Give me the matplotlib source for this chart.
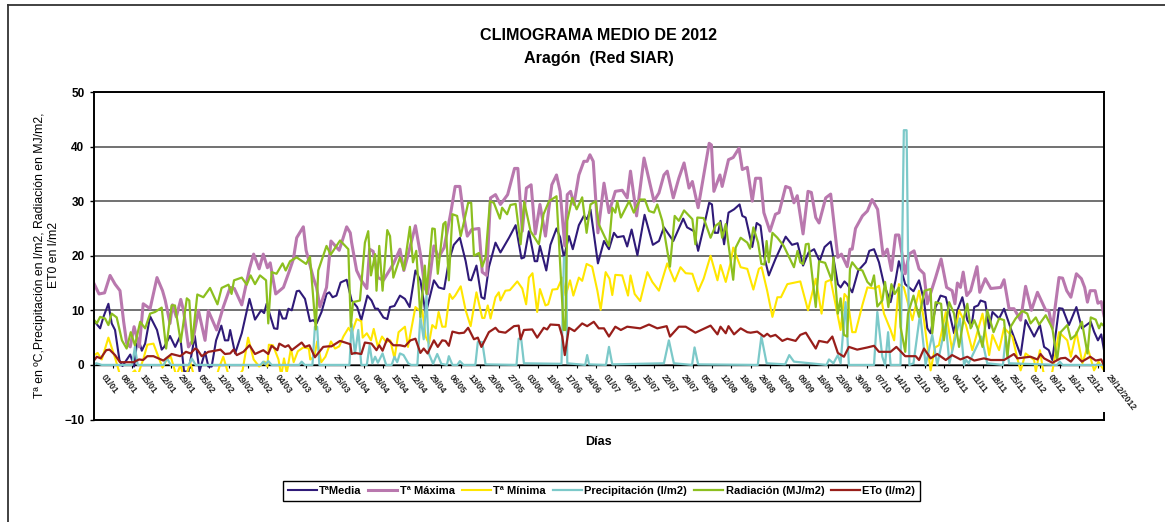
import matplotlib
matplotlib.use('Agg')
import matplotlib.pyplot as plt
from matplotlib.lines import Line2D
from matplotlib.patches import Rectangle
import datetime

plt.rcParams['font.family'] = ['Liberation Sans', 'DejaVu Sans']

# Dia del año (0 = 1 de enero) y valor de cada serie
tmax_dias = [0,2,4,6,7.8,9.6,10.9,12,13.3,14.7,16.6,18,20.5,23,25,26,27.7,28.6,30,31.6,32.6,34.4,36,38,40.4,41.6,44.6,47,49.5,51,53.7,56.5,58,60,61.5,63,64,66,68.8,71,72.4,73.6,76,77,79.6,80.8,82,84.4,86,89,91.7,93,93.5,95.3,97,99,100,101.3,103,105,108.6,111,112.4,114,116.6,118.4,120,121,123.3,125,127,129.3,131,132.7,134,135.4,137,139.6,140.8,142.4,143.8,145.6,147.4,150,152.5,153.7,155.3,156.8,158.5,160,161.7,163.7,166,167.7,169,170.7,171.6,172.8,174,175.8,177.6,178.8,179.8,181,182.7,184.9,186.7,189,191.5,193.3,194.5,196.7,199.4,203,204.8,206.6,207.8,210,212,213.9,215.7,216.9,219,223,223.8,224.7,226.9,227.7,230,231.7,233.8,235,236.8,238.6,239.8,241.6,242.8,245,247,248.3,250.7,252.3,253.7,254.9,257,258.8,260,261.6,262.8,265.2,267,269.6,270.9,273,274,274.8,276,278.5,280.3,282,284,286,287.5,289,290.5,291.7,294,295.4,297.2,299,300.8,302,305,307,309,311,312,312.9,314,315,316.3,317.7,320,321,323,325,328.6,329.8,331.6,333.4,335.8,337.6,339.7,341.9,344.9,346,347.3,349.7,351,352.5,354,356,357.8,359,360,361,362.8,363.8,365,366]
tmax = [15.1,13,13.2,16.4,14.8,13.6,8,4,3.3,7,3.3,11.2,10.3,16,13.6,11.8,7.6,11,8.8,12,10,3.3,4.5,10,4.5,9.9,6.4,10.6,14.2,14,11,17.6,20.3,17.6,20.3,17.8,18.7,13,14.2,17.3,19.4,23.3,25.3,21,16,14.2,10.6,14.2,22.7,21,25.3,24.2,22.4,17.3,15.5,14,21.2,20.8,16,15.5,18.5,21.2,17.3,20.3,25.5,20.3,14.2,13,21.8,19.7,21.5,27.6,32.7,32.7,27.6,23.6,24.8,25,17,16.4,30.6,31.2,29.4,31.2,36,36,24.5,32.4,33,24,29.4,23.6,33,34.8,31.8,21.8,31.2,31.8,29.4,34.8,37.3,37.3,38.5,37.3,24.2,33.3,27.9,31.8,32,30.6,35.5,27.3,37.9,30,31.5,34.8,35.5,30.6,34.2,37,32.4,33.6,28.8,40.6,40.3,31.8,34.8,32.7,37.6,38,39.7,35.8,36.2,30,34.2,34.2,27.9,24.5,27.6,27.9,32.7,32.4,29.7,31,24,31.8,31.6,27,26,30.6,31.3,19.7,20.3,18,21.2,21.2,25,27.3,28.2,30.3,28.5,20,21.2,17.3,23.8,23.8,16.7,20.3,20.9,17.6,16.7,11.2,16,19.4,14.2,13.6,11.2,15,14.2,17,12.7,13.6,18,13.3,15.8,14,14.2,15.6,10.3,10.3,8.2,14.4,10,13.3,10,10,6.7,16,15.9,13.6,12.4,16.7,15.8,14.2,11.5,13.6,13.6,11.3,11.6,9]

tmedia_dias = [0,2.4,3.6,5.4,6.6,7.8,9.4,10.5,13.3,14.7,15.7,16.6,17.5,18.7,20.5,23,24.7,25.6,27.7,29.6,31.4,32.8,34.4,36.7,38.4,40.4,41.6,42.8,44.4,46.3,47.6,48.8,49.5,51.3,53.7,56.5,58.5,60.7,61.8,62.7,65.4,66.6,67.3,68.5,69.7,70.6,71.8,73.6,74.5,76.6,78.4,79.6,80.8,82.6,84.4,85.4,86.6,88,89.5,91.7,93.5,95.5,97,99.2,100.7,102,103,105,106.4,107.4,109,111,112.8,114.5,116.6,118.4,120.3,121.5,123.3,125,127,128.7,130.5,132.7,134.8,136,136.8,138.7,140.5,141.6,143.2,145.6,147.4,150.5,152.9,155,156,157.7,159.8,160.7,161.7,164,165.5,167.7,169,170.4,172.2,173.6,175.8,177.6,178.8,180,182.7,184.9,186.7,188.5,189.7,192,193.3,194.9,197,199.6,202.6,204.8,206.6,210,213.6,215,217.5,219,221,223,224,225,226.2,227.1,228.4,230,232,234,235,236.2,238.6,240.2,241.6,243,244.6,247,250.7,253,255,257,259,261,263,264.8,267,269.6,270.6,272,273,274.8,277,279.7,281,282.7,284.5,286.3,288.7,290.5,291.7,294,297,299,300.8,302,303.2,305,306.8,308.7,311.7,312.9,314.7,316.5,318,319,320.4,321.3,323,324.4,325.6,328,329.8,332.2,335.8,337.6,340.7,342.8,344.3,346,347.3,349.7,351,353.3,356,358,361.2,362.4,363.8,365,366]
tmedia = [8.2,6.7,8.8,11.2,7.6,6.4,0.9,-0.2,1.9,-0.3,3.9,4.2,2.6,3.9,8.9,6.4,2.8,3.3,5.3,3.3,5.3,-1.2,-1.2,5.3,-1.2,2.4,-0.3,-0.3,4.5,7.2,4.5,4.5,6.4,2.1,5.8,12.1,8.3,10,9.5,11.2,6.7,6.6,10,8.5,8.5,10.3,10,13.5,13.6,12.1,8,8.2,7.6,9.7,13,13.3,12.4,12.7,15.1,15.6,11.8,10.6,8.2,12.7,11.8,10.3,10.3,8.7,8.4,10.6,10.8,12.7,12.1,10.6,17.3,15.5,9.4,11.8,15.5,14.2,13.9,19,22,23.3,19,15.6,15.5,18.2,12.4,12.1,17.9,22.4,20.6,23.3,25.6,19.5,19.7,24.5,19,19,21.8,17.3,22,25,23.4,19.7,23.6,21.2,25.6,27.3,26.7,28.5,18.6,22.7,21.2,24.2,23.4,23.6,21.7,24.8,20.1,27.5,22,22.7,25.2,22.7,26.8,25.2,24.5,20.9,25.2,29.7,29.4,24.2,24.2,26.4,22.1,27.9,28.5,29.4,27.3,27,21.6,26,25.5,19.7,16.4,19.4,23.5,22,22.3,18.2,20.6,21.2,19,21.6,22.6,14.8,14.2,15.3,14.8,13.3,17.3,18.8,20.9,21.2,18.8,14.8,11.5,15.5,19,14.8,13.5,15.5,11.8,6.7,5.8,10.6,12.7,12.4,5.8,10,12.4,8.2,7,10.6,10.9,11.8,11.5,6.7,9.7,8.5,10.3,6.7,1.8,8.2,5.2,7.3,3.3,2.7,0.9,10.4,10.3,7.3,10.6,6.7,7.9,6.1,4.5,5.6,2.7]

tmin_dias = [0,1.5,3,5.4,7,8,9.4,11,13,15,16,18,19.5,21.7,23.5,25,26.5,28,30,31.5,33,35,37,39,41,44,45.5,47,49,51,54,56,58,60,62,63,63.5,65,67,68,69,70,71.5,72.5,74,76,78,78.5,80,81,82.5,84,86,87.5,89,90.5,92.4,93.5,95.3,97,97.5,99,100.5,101.5,103,104.5,106,107.5,109,110.5,112.8,113.9,116.6,118,119.1,120.3,121.5,122.7,124,125,126.3,127.5,129,130,131,133,134.8,136.6,138.7,140.8,141.6,142.8,143.8,145.6,146.8,147.4,149.2,150.8,153.5,155.3,156.7,157.7,159,160.7,161.7,163.7,164.7,166.2,168,169.8,171,172.6,173.8,175.8,177,178.6,180.6,182.5,183.7,185.5,186.9,187.9,189,191.5,193.6,194.5,196,198,200.6,202.4,204.8,207.8,210.5,212.6,214.5,216.9,219,221,223.5,226,227.1,229,230.8,231.7,234.4,236.8,239,241,242,244,245.9,247.7,249,251.3,256,258.8,261.6,263.7,265.2,267,270.6,272,273,274.8,276,278.5,280.3,283,284.5,286.3,288.7,290,291.7,293.5,296.6,299,300.8,303.2,304.8,306.2,308.7,311,313.5,316,318.3,322,324.4,325.6,328,329.8,332.8,334.6,335.8,337.6,340.7,341.3,342.8,344,345.5,347.3,349.7,352.7,354,356,358.2,360,362.4,364,366]
tmin = [1.7,2.2,1,5,2.5,1,-1.5,-3,-2,-1,-2,1,3.7,3.9,1.5,-0.5,1,1.5,-2,0,-3,0.5,-3,-2,-3,-3,-0.5,1.5,-2,-3,-1,5,1,-0.3,0.6,-0.3,3.7,3.6,1,-2,1.2,-1.5,3,0.5,2.5,3.2,3,1,1.5,4.3,0.5,1.5,4.3,3,3.4,5.2,6.8,5.8,8.4,8,5,5.8,4.5,6.6,3.3,5.2,4.2,4.5,1.2,6,7,3.3,10.6,10,10,5.2,3.9,7.3,6.7,9.7,7,7,13,12.1,12.7,14.4,10,7.1,13.3,8.6,8.6,10.9,8.5,12.4,13.3,11.8,13.6,13.7,15.3,14,11.1,16,16.8,9.7,13.9,10.9,11.1,13.8,13.9,16,12.7,15.5,12.7,16,15.4,18.5,18,13.6,10.1,17,15.8,12.8,16.5,16.4,12.7,16.4,13,11.7,17,15.2,13.6,18.6,15.3,17.9,16.8,16.7,13.5,15.8,20,15.5,18.3,15.2,18.8,21.5,17.9,17.6,13.8,17.6,17.9,13.6,8.8,12.4,12.4,14.8,15.3,10,15.8,9.4,15.2,15.6,6.4,13,12.4,6,6,11,14.2,14,14.5,9.4,6.4,4.5,14.8,14.2,8.2,13.6,8.2,-1,3.2,3.6,9.7,2.7,10,7.3,2.7,9.4,1.8,5.5,2.7,6.8,5.2,1.2,-1,2.1,0.9,-1.2,2.7,-1.2,-2.7,-1.2,6,4.5,1.5,6,0.3,3.3,-1,0.6,-1]

precip_dias = [0,1,3,14,15,16,25.5,26.5,28,34.5,35.6,37,60.5,61.5,62.3,63.3,64.5,74.5,75.4,76.5,79.3,80.2,81,81.8,92.7,93.5,94.7,95.9,97,99,100,101,102,103,104.7,106,108,109,110,111,112.3,114,115,117.3,118.4,119.6,120.6,121.5,123,124.5,126,128,128.7,130,131.8,132.7,134,138.3,139.2,140.8,142,153.2,154,154.9,155.9,169.5,170.4,171.2,171.6,178.1,178.8,179.5,185.6,186.7,187.9,206.6,208.4,210.2,216.8,217.7,219,240.6,241.9,243.8,250.5,252,253.7,265.5,266.4,268,269.6,270.6,272.4,273.6,282.7,283.9,285.7,286.7,287.8,288.7,292.3,293.5,294.5,295.5,297,299.4,301.4,303.8,305.6,308.7,310,313.8,315.3,316,317,321.6,323.7,329.4,330.4,331.6,349,350,351,366]
precip = [0,0.3,0,0,3.3,0,0,1.3,0,0,1.2,0,0,0.6,0.1,0.7,0,0,0.6,0,0,7,7,0,0,7.5,2,6.4,0,0,3.6,0.3,1.5,0.4,2.1,0,0,1.5,0.5,2.1,1.8,0.3,0,0,8.8,4.7,12.7,2,0.2,2,0.2,0,1.6,0,0,0.7,0,0,4.2,4.2,0.1,0,4.8,4.8,0.3,0.2,19.7,19.7,0.3,0,1.8,0.1,0,3.3,0.1,0.3,4.5,0.3,0,3.2,0.1,0,5.2,0.3,0.1,1.8,0.6,0,1,0.3,1.8,0.3,11.5,0,0,9.7,1.5,0,6,0,0,43,43,0,0.3,9.4,0,5.5,0,7.6,0.3,8.5,0,0.9,0.3,5.2,0.3,0,5.2,0.3,0,0.6,0,0]

rad_dias = [0,1.2,2.4,4.2,5.4,6.6,8.4,10.3,12,13.5,15,16.9,18.7,20.5,22.3,24.7,26.3,28.3,29.5,31.6,33.8,34.7,35.7,37.6,39.8,42.2,44.9,46.4,48.9,50,50.9,53.7,55.5,56.9,58.5,60.3,62.5,63.3,64.5,66.3,68.5,69.6,71.2,73.6,77,78.4,80.5,81.4,84.4,85.9,89.3,92.3,93.2,94,96.5,98.3,99.5,100.5,102,102.5,103.5,104.7,106.4,107.4,108.6,111,112.4,114.6,115.7,116.9,118.4,120,120.6,122.7,123.6,124.7,126.7,127.5,128.7,130,131.7,133,134.8,135.7,136.8,137.8,139.6,140.8,142,143.6,145,147.2,148,149.8,151,152.9,154.7,156,158.3,161.3,163,165,167.7,170.3,170.9,171.6,173.4,175,177,178.6,180,181.9,183,186.7,187.9,189,189.7,191,194,195.7,198,199.7,201.2,203,204.2,206,208.8,210.5,212,213.9,216.9,218,218.7,221,223.5,225.3,226.9,227.7,229,231.7,232.6,234.4,236.8,237.8,239,240.7,241.9,243,243.8,244.6,245.9,247.7,250,252.3,253.7,255,256,257,258,259,261.6,262.8,265,267.4,268,269.6,270.6,271.8,273,274,274.8,276.6,278.5,280.3,281.7,282.7,283.9,285.7,286.7,287.9,289,290.2,291.7,292.3,294,295,297,299,301,303.2,303.8,305,307,308,309.9,311.7,313.5,315.3,316.5,317.7,319,320.2,322,323.7,326,328,329.8,331,332.2,334,336.4,338.2,339.4,341.3,342.5,344.9,347.3,349,350.3,352.7,354,355.8,358,360,361.2,363,364.2,365,366]
rad = [8.4,7.6,8.8,8.5,7.3,9.4,8.7,4.5,3,6,3.6,7.9,6.7,9.4,9.7,10.5,3,10.9,10.9,4.2,12.2,11.8,3.9,12.9,12.4,14.1,11.1,14.1,14.7,13,15.5,16,14.7,16.4,14.8,16.4,15.5,7.6,17,16.7,18.6,17.3,19,19.7,18.5,19.8,6.5,17.3,21.8,20.2,22.8,21.2,7,11.5,11.8,22.4,24.5,16.4,20.3,13.6,21.8,13.6,24.7,23.6,16,19.7,17.4,25.3,18.8,20.9,8.8,18.2,13,25,24.9,16.7,25.8,26.2,15.5,27.6,27.3,23.6,27.6,29.7,29.7,20,20.5,18,19.7,30,29.7,26.8,28.8,27.6,29.3,29.5,22.1,29.9,24.5,22.1,27.6,30,30.9,6.4,6.4,26.4,30.6,28.5,30.7,24.2,29.4,30,25.8,21.8,28.8,27.9,30,27,30,27.9,30.3,30.3,28.2,27.9,29.4,26.4,18,27.3,26.4,28.3,26.7,22.1,27,26.9,23.3,25.5,26.1,23.3,25.8,15.6,21.5,23.3,22.4,21.3,25.2,22.4,18.5,18.4,22.7,18.8,24.2,23.3,21.8,19.4,17.9,20.9,18.8,18.5,22.1,22.2,10.6,19,18.7,15.5,19.7,9.4,12.2,5.5,5.2,17.6,18.8,17.6,17.3,15.2,14.5,16.4,10.7,11.8,15.2,10.6,14.8,13,14.2,7,2.4,9.4,12.7,8.8,13.6,13.9,5.8,11.5,11.2,4.5,11.5,9.4,3.3,8.8,11.2,6.7,8.2,6.7,3.3,10,6,8.5,8.2,1.5,7,8.5,9.9,9.4,7.6,8.7,7.4,9.1,6.7,0.9,6,7.3,4.7,5.5,7.9,2.1,8.7,8.3,6.7,7.6,7.1]

eto_dias = [0,1.2,2.6,4.6,5.8,7.8,9.6,14.5,16.5,18,19.5,21.7,25.3,28.3,31.4,33.5,35.2,36.8,37.6,39.2,41.6,44,46,47.6,49.5,50.7,51.9,54.3,56.5,58.5,61.5,63.3,64.5,66.6,67.3,69.4,70.6,71.8,75.4,76.6,78.2,80.2,83.2,85,86.2,89.3,93,93.5,94.7,97,98.3,100.7,102.5,103.5,104.7,106.4,108.6,111,112.8,114.8,116.6,118.4,119.6,121,123.3,124.7,126.3,127.5,128.7,130,132.4,134.2,135.7,137.8,139.2,140.5,143.2,145.6,146.8,149.2,152.3,154,154.7,155.9,158.9,160.7,163.1,164.3,165.5,168.6,169.8,170.7,172.2,174.2,177,178.8,181.2,183,184.9,186.7,189,191,193.3,198,201.2,204.2,207.6,208.8,212,214.5,218,223.5,226,227.1,229,230,232,234.4,236.8,238,240.4,242.8,244,245.2,247,249.5,251.3,254.3,256,258,261.6,262.8,265.8,267.6,269.6,271.8,273.6,276.6,280.3,282.7,284.5,288.7,290.8,294,297.8,299,300.8,303.2,305.6,308.7,311,314,316.5,319,322.5,325,329.8,333.4,334.6,339.4,341.9,343,344.3,347.3,350.3,352,354,355.8,358,361,363,365,366]
eto = [0.7,1.5,1.2,2.7,2.8,1.8,0.5,0.5,1,0.9,1.6,1.6,0.8,2,1.6,2.4,2.1,3,2.8,1.6,2.4,2.6,2.8,2,2.1,2.8,1.8,2.4,3.6,2,2.7,2,3.5,2.7,3.9,3.3,3.6,2.7,4.1,3.3,3.6,1.4,3.3,3.4,3.4,4.4,3.8,2,2.2,2,4.1,3.9,2.7,3.6,2.6,4.8,3.6,3.6,3.4,4.5,4.8,2.2,3,2.1,4.5,3.3,4.5,4.4,3.5,6.1,5.8,5.9,6.8,4.7,5,3.3,6,6.8,6.1,5.9,7.1,7.2,4.7,6.4,6.5,5,6.8,6.5,7.4,7.3,5.2,1.8,6.8,6.2,7.6,7.1,7.9,6.7,6.7,5.2,7,6.4,7,6.7,7.4,6.7,7.1,5.2,7,7,5.9,7.2,5.6,7,5.8,7.1,5.6,6.7,6,5.9,6.1,5.2,5.7,5.2,5.5,4.4,4.8,4.4,5.5,5.9,3,4.4,4.1,5.2,2.2,1.5,3.3,2.8,3.2,3.5,2.4,2.4,3.3,1.6,1.6,0.9,3,1.2,2,0.9,1.8,1,1.5,0.8,1.2,0.9,0.9,2,1.2,1.5,1,2,1.2,0.4,1.2,1.3,0.6,1.7,0.6,1.5,0.8,1,-0.1]

# Una etiqueta cada 7 dias; la ultima es la que se ve completa
inicio = datetime.date(2012, 1, 1)
tick_dias = list(range(0, 365, 7))
tick_labels = [(inicio + datetime.timedelta(days=d)).strftime('%d/%m') for d in tick_dias]
tick_labels[-1] = '29/12/2012'

fig = plt.figure(figsize=(11.65, 5.22), dpi=100)
ax = fig.add_axes([93.5 / 1165, 1 - 419.5 / 522, (1104 - 93.5) / 1165, (419.5 - 92) / 522])

# Marco exterior (solo arriba e izquierda)
fig.add_artist(Line2D([7.5 / 1165, 1], [1 - 5 / 522, 1 - 5 / 522], color='#333333', lw=1.3))
fig.add_artist(Line2D([8 / 1165, 8 / 1165], [0, 1 - 5 / 522], color='#333333', lw=1.3))

ax.axhline(0, color='black', lw=1, zorder=1)
ax.plot(tmedia_dias, tmedia, color='#2F1A78', lw=1.5, label='TªMedia', zorder=2)
ax.plot(tmax_dias, tmax, color='#B978AE', lw=2.2, label='Tª Máxima', zorder=2)
ax.plot(tmin_dias, tmin, color='#FFE600', lw=1.5, label='Tª Mínima', zorder=2)
ax.plot(precip_dias, precip, color='#7CC9C9', lw=1.6, label='Precipitación (l/m2)', zorder=2)
ax.plot(rad_dias, rad, color='#8CBF1F', lw=1.6, label='Radiación (MJ/m2)', zorder=2)
ax.plot(eto_dias, eto, color='#981E1A', lw=1.6, label='ETo (l/m2)', zorder=2)

ax.set_xlim(0, 366)
ax.set_ylim(-10, 50)
ax.set_yticks(range(-10, 51, 10))
ax.tick_params(axis='y', length=3, width=1, labelsize=8.5)
for lab in ax.get_yticklabels():
    lab.set_fontweight('bold')
ax.grid(axis='y', color='#666666', lw=1.3)
ax.set_axisbelow(True)
ax.set_xticks([])
for s in ax.spines.values():
    s.set_linewidth(1.4)

# Las etiquetas del eje tapan lo que baja de -1.3, como en la hoja original
ax.add_patch(Rectangle((0.4, -8.6), 372, 7.3, fc='white', ec='none', zorder=3, clip_on=False))

sec = ax.secondary_xaxis(10 / 60)
sec.set_xticks(tick_dias)
sec.set_xticklabels([])
sec.tick_params(axis='x', length=2.5, width=0.8)
sec.spines['bottom'].set_visible(False)

for d, txt in zip(tick_dias, tick_labels):
    ax.annotate(txt, xy=(d, 0), xytext=(6.5, -7.5), textcoords='offset points', fontsize=6.2,
                fontweight='bold', color='#222222', rotation=-52, rotation_mode='anchor',
                ha='left', va='center', annotation_clip=False, zorder=5)

fig.text(599 / 1165, 1 - 36 / 522, 'CLIMOGRAMA MEDIO DE 2012', fontsize=11.6, fontweight='bold', ha='center', va='center')
fig.text(599 / 1165, 1 - 58 / 522, 'Aragón  (Red SIAR)', fontsize=11.6, fontweight='bold', ha='center', va='center')
fig.text(598 / 1165, 1 - 442 / 522, 'Días', fontsize=9, fontweight='bold', ha='center', va='center')
fig.text(47 / 1165, 1 - 255 / 522, 'Tª en ºC,Precipitación en l/m2, Radiación en MJ/m2,\nET0 en l/m2',
         fontsize=8.8, rotation=90, ha='center', va='center', linespacing=1.15)

fig.legend(loc='center', bbox_to_anchor=(601.5 / 1165, 1 - 491 / 522), ncol=6, frameon=True, fancybox=False,
           edgecolor='black', framealpha=1, prop={'size': 8, 'weight': 'bold'}, handlelength=2.6,
           handletextpad=0.25, columnspacing=0.6, borderpad=0.45, borderaxespad=0)

fig.savefig('out.png', dpi=100)
